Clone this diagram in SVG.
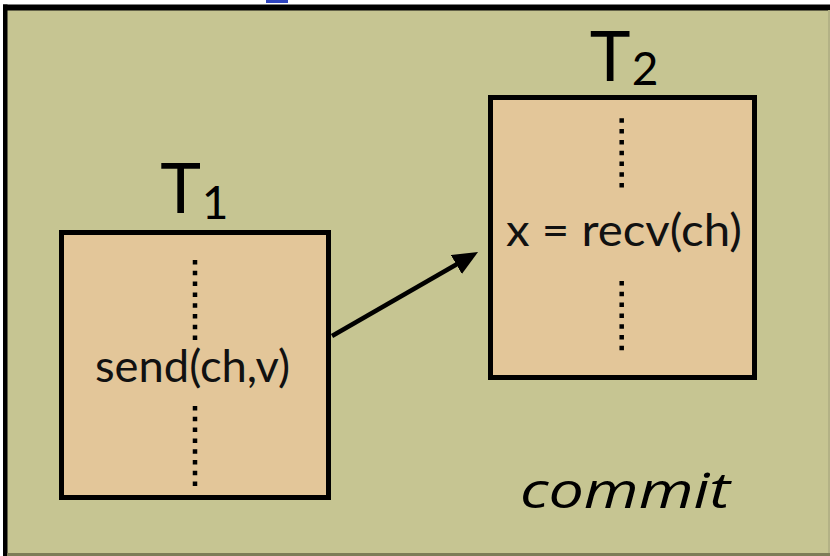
<svg xmlns="http://www.w3.org/2000/svg" width="830" height="556" viewBox="0 0 830 556">
  <defs>
    <style>
      .panel { fill: #c6c592; }
      .box { fill: #e3c699; stroke: #000; stroke-width: 5; }
      .dots { stroke: #000; stroke-width: 4.5; stroke-dasharray: 4.5 6.3; fill: none; }
      .code { font-family: Lato, "Open Sans", "Liberation Sans", sans-serif; font-size: 44px; fill: #111; }
      .title { font-family: Lato, "Open Sans", "Liberation Sans", sans-serif; fill: #000; }
      .note { font-family: "Open Sans", "DejaVu Sans", sans-serif; font-style: italic; font-size: 50px; fill: #000; }
      .edge { stroke: #000; stroke-width: 4.5; fill: none; }
    </style>
    <marker id="head" viewBox="0 0 25 22" markerWidth="25" markerHeight="22" markerUnits="userSpaceOnUse" refX="5" refY="11" orient="auto">
      <path d="M0,0 L25,11 L0,22 z" fill="#000"/>
    </marker>
  </defs>

  <!-- page and frame -->
  <rect x="0" y="0" width="830" height="556" fill="#ffffff"/>
  <rect x="266" y="0" width="22" height="3" fill="#2f45c0"/>
  <rect class="panel" x="7" y="10" width="823" height="544"/>
  <rect x="3" y="4.5" width="827" height="6" fill="#000"/>
  <rect x="3" y="4.5" width="4.5" height="551.5" fill="#000"/>
  <rect x="7" y="553" width="823" height="3" fill="#7d7c57"/>
  <rect x="828" y="10" width="2" height="543" fill="#b3b286"/>

  <!-- thread T1 -->
  <g id="t1">
    <text class="title" x="180.5" y="213" font-size="69" text-anchor="middle">T</text>
    <text class="title" x="215" y="219" font-size="46" text-anchor="middle">1</text>
    <rect class="box" x="61.5" y="232.5" width="267" height="265"/>
    <line class="dots" x1="195" y1="260" x2="195" y2="340"/>
    <text class="code" x="95" y="381.5" textLength="195" lengthAdjust="spacingAndGlyphs">send(ch,v)</text>
    <line class="dots" x1="195" y1="406" x2="195" y2="486"/>
  </g>

  <!-- thread T2 -->
  <g id="t2">
    <text class="title" x="610" y="81" font-size="69" text-anchor="middle">T</text>
    <text class="title" x="645" y="85" font-size="46" text-anchor="middle">2</text>
    <rect class="box" x="490.5" y="97.5" width="264" height="280"/>
    <line class="dots" x1="621.7" y1="118.3" x2="621.7" y2="187.5"/>
    <text class="code" x="506" y="245.5" textLength="236" lengthAdjust="spacingAndGlyphs">x = recv(ch)</text>
    <line class="dots" x1="621.7" y1="281" x2="621.7" y2="350.5"/>
  </g>

  <!-- label -->
  <g id="commit">
    <text class="note" x="520" y="508" textLength="210" lengthAdjust="spacingAndGlyphs">commit</text>
  </g>

  <!-- connectors -->
  <g id="connectors">
    <line class="edge" x1="332" y1="336" x2="460.7" y2="262" marker-end="url(#head)"/>
  </g>
</svg>
